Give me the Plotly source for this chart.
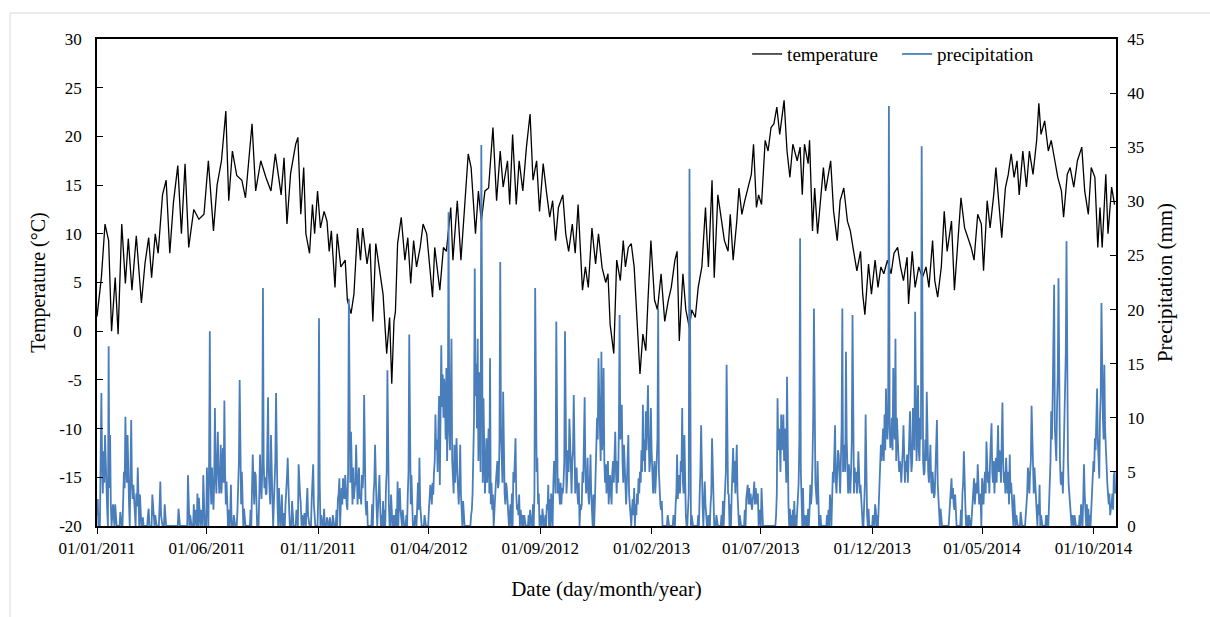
import pandas as pd
import plotly.graph_objects as go

START = "2011-01-01"
END = "2014-11-01"
N_DAYS = 1400

# Daily mean temperature (°C): day offset from 01/01/2011 and value
temp_day = [0, 6, 11, 16, 20, 25, 29, 34, 39, 43, 48, 54, 61, 66, 71, 75, 80, 84, 90, 95,
            100, 105, 111, 116, 121, 126, 133, 140, 147, 153, 160, 165, 171, 177, 181, 186, 192, 199, 204, 209,
            213, 218, 225, 232, 239, 245, 253, 257, 261, 266, 273, 276, 280, 284, 287, 292, 296, 299, 303, 307,
            312, 316, 319, 322, 327, 330, 335, 341, 344, 349, 353, 358, 362, 365, 371, 375, 379, 383, 388, 393,
            398, 402, 405, 408, 410, 413, 418, 423, 427, 431, 435, 439, 444, 448, 453, 457, 461, 464, 468, 471,
            476, 480, 486, 489, 495, 500, 505, 510, 514, 520, 524, 528, 533, 538, 544, 549, 554, 558, 564, 567,
            571, 576, 580, 585, 590, 595, 599, 604, 608, 613, 618, 622, 626, 630, 634, 640, 644, 648, 653, 657,
            661, 667, 671, 675, 680, 685, 689, 694, 699, 702, 705, 710, 714, 719, 723, 726, 730, 734, 738, 743,
            746, 750, 754, 757, 761, 766, 770, 775, 780, 785, 789, 794, 797, 800, 805, 809, 814, 817, 822, 826,
            831, 836, 840, 845, 848, 853, 858, 862, 867, 870, 874, 879, 882, 886, 890, 894, 899, 902, 906, 909,
            913, 918, 922, 926, 930, 934, 938, 944, 948, 952, 956, 962, 966, 969, 972, 977, 979, 983, 986, 990,
            995, 998, 1001, 1005, 1008, 1012, 1017, 1021, 1026, 1031, 1035, 1040, 1044, 1049, 1052, 1055, 1060, 1064, 1069, 1073,
            1077, 1081, 1086, 1091, 1095, 1100, 1104, 1108, 1113, 1115, 1120, 1124, 1129, 1134, 1139, 1143, 1148, 1151, 1155, 1160,
            1164, 1168, 1174, 1178, 1183, 1187, 1192, 1196, 1201, 1205, 1210, 1215, 1218, 1223, 1227, 1232, 1235, 1240, 1243, 1248,
            1252, 1256, 1260, 1264, 1267, 1272, 1277, 1281, 1286, 1291, 1294, 1297, 1302, 1307, 1311, 1316, 1320, 1325, 1328, 1333,
            1337, 1342, 1347, 1353, 1357, 1362, 1366, 1371, 1375, 1378, 1381, 1386, 1389, 1394, 1398]
temp_c = [1.5, 5.5, 11, 9.3, 0, 5.5, -0.3, 11, 4.9, 9.5, 4.2, 9.8, 2.9, 7, 9.6, 5.5, 10, 8, 14, 15.5,
          8, 13.2, 17, 10, 17.2, 8.6, 12.5, 11.5, 12, 17.5, 10.3, 15, 17.5, 22.6, 13.4, 18.5, 16, 15.5, 13.7, 17.8,
          21.3, 14.4, 17.5, 15.8, 14.4, 18.2, 14, 17.8, 11, 16.2, 19.2, 19.9, 12, 16.8, 10, 8, 13, 10, 14.4, 10.6,
          12.3, 11.3, 8.2, 10.3, 4.5, 10, 6.6, 7.3, 3.2, 1.8, 3.8, 10.6, 7.3, 10.6, 6.9, 9, 1, 9, 6.6, 3.8,
          -2.3, 1.4, -5.4, 1, 2, 9, 11.7, 7.3, 9.6, 4.9, 9.3, 6.6, 8.6, 11, 10, 6.6, 3.5, 8.6, 5.9, 4.2,
          8.6, 8.2, 12.7, 7.3, 13.4, 7.3, 12.7, 18.2, 16.8, 10, 14.4, 11.3, 14.4, 14.7, 20.9, 13.4, 18.5, 14.8, 17.5, 13,
          20.2, 13, 17.5, 14.4, 18.9, 22.3, 15.5, 17.5, 12.3, 17.2, 14, 11.7, 13.4, 9.3, 12.7, 14, 10, 8.2, 11, 8,
          13, 4.2, 6.6, 4.5, 10.6, 6.9, 10, 6.5, 5, 5.9, 0.7, -2.3, 7.3, 5.2, 9.3, 6.6, 8.6, 9, 6.6, 0.3,
          -4.4, -0.3, -2, 3.2, 9.3, 3.2, 2.2, 5.9, 1, 3.2, 4.5, 7.3, 8.2, -1, 5.9, 2.2, 0.3, 2.2, 1.4, 4.5,
          6.6, 12.7, 6.6, 15.5, 5.5, 14, 11.3, 9.3, 8.2, 12, 7.3, 11.3, 14.7, 12, 13.4, 14.7, 16.1, 19.2, 12.7, 14,
          13, 19.6, 18.5, 20.9, 21.3, 23, 20.2, 23.7, 18.5, 15.8, 19.2, 17.5, 18.9, 14, 19.2, 17.2, 19.6, 10.3, 14.7, 10,
          14.7, 16.8, 14.4, 16.1, 17.5, 12.3, 9.3, 13.4, 14.7, 11.3, 10.3, 8, 6.2, 8.2, 3.8, 1.7, 6.9, 3.8, 7.3, 4.5,
          6.6, 5.9, 7.3, 5.9, 8, 8.6, 6.6, 5.2, 7.6, 2.8, 8.2, 4.5, 6.6, 5.5, 6.6, 4.5, 9.3, 5.2, 3.5, 6.6,
          12.3, 8.2, 11.3, 4.2, 9.3, 13.7, 10.6, 9.6, 8.6, 7.3, 12, 11, 6.2, 13.4, 10.6, 14, 16.8, 12.3, 9.6, 14.7,
          16.1, 18.2, 15.8, 17.5, 14, 18.5, 14.8, 18.5, 16.1, 19.6, 23.4, 20.2, 21.6, 18.5, 19.6, 17.5, 15.8, 14.4, 11.7, 16.1,
          16.8, 14.8, 17.5, 18.9, 14.4, 12, 16.8, 15.8, 8.6, 12.7, 8.6, 16.1, 10, 14.8, 13]

# Daily precipitation (mm): the clearly readable rain days (other days dry)
rain_day = [0, 6, 9, 11, 13, 16, 18, 22, 25, 32, 39, 42, 47, 50, 56, 59, 71, 76, 80, 87,
            93, 112, 125, 133, 140, 146, 151, 155, 158, 162, 166, 170, 173, 175, 178, 184, 188, 196, 199, 202,
            214, 218, 224, 228, 232, 235, 239, 246, 250, 254, 262, 268, 277, 279, 282, 289, 297, 305, 312, 324,
            333, 338, 341, 346, 349, 352, 356, 360, 364, 367, 371, 382, 388, 393, 399, 404, 411, 413, 418, 429,
            432, 443, 458, 462, 465, 471, 473, 477, 480, 483, 487, 491, 494, 499, 503, 514, 519, 523, 525, 528,
            531, 535, 540, 544, 550, 554, 558, 563, 567, 575, 580, 585, 593, 602, 605, 612, 620, 631, 634, 639,
            643, 646, 649, 653, 655, 659, 664, 670, 674, 678, 682, 689, 693, 696, 699, 702, 705, 712, 718, 721,
            724, 730, 733, 738, 744, 750, 754, 757, 761, 766, 771, 776, 784, 797, 800, 804, 807, 814, 817, 830,
            835, 845, 851, 860, 865, 868, 874, 879, 883, 894, 899, 903, 906, 913, 935, 940, 943, 948, 952, 958,
            966, 970, 977, 980, 985, 990, 994, 1007, 1014, 1019, 1024, 1027, 1029, 1033, 1038, 1041, 1046, 1049, 1056, 1060,
            1069, 1077, 1082, 1084, 1088, 1090, 1094, 1097, 1100, 1104, 1108, 1113, 1117, 1121, 1124, 1128, 1133, 1136, 1140, 1145,
            1150, 1154, 1159, 1174, 1179, 1191, 1198, 1205, 1210, 1216, 1222, 1229, 1235, 1238, 1244, 1249, 1254, 1260, 1269, 1279,
            1284, 1288, 1295, 1304, 1311, 1315, 1318, 1321, 1325, 1332, 1335, 1343, 1356, 1362, 1371, 1374, 1377, 1380, 1384, 1387,
            1393, 1397]
rain_mm = [1.0, 12.3, 6.9, 8.4, 2.9, 16.6, 8.4, 2, 2, 1.3, 10.1, 8.4, 9.8, 3.8, 5.4, 2.9, 1.6, 2.9, 1, 4.1,
           2, 1.6, 4.7, 2, 2.6, 4.7, 5.4, 18, 5.4, 10.9, 8.7, 7.5, 7.2, 11.6, 4.1, 3.8, 1, 13.5, 5, 1.6,
           6.6, 4.7, 6.6, 22, 2.9, 11.9, 8.4, 12.3, 3.5, 2.9, 6.3, 2.3, 5.7, 2.9, 1, 3.5, 5.7, 19.2, 1.6, 1,
           4.4, 4.4, 4.7, 21, 8.7, 5.4, 7.5, 5.4, 4.7, 12.1, 2.3, 7.5, 4.7, 2.3, 14.4, 2.9, 1.6, 4.1, 1, 17.7,
           4.7, 6.3, 3.8, 2.9, 10.3, 3.8, 16.7, 13.6, 14.6, 29, 17.3, 7.5, 8.1, 7.5, 2.3, 1, 23.8, 17.3, 14.2, 35.2,
           11.8, 8.1, 15.5, 2.9, 6, 24.4, 12.4, 3.5, 1, 8.1, 2.9, 1, 1, 22, 6.3, 1.6, 3.8, 18.9, 4.4, 3.5,
           18, 4.4, 9.9, 6, 12.1, 5.4, 2, 11.9, 6.3, 6.6, 2.9, 15.5, 16.1, 14.6, 5.7, 6, 4.7, 8.7, 19.5, 11.2,
           7.5, 8.4, 1.6, 3.5, 4.4, 11.2, 10.6, 13, 10.9, 6, 20.1, 2.3, 1, 6.6, 4.7, 10.9, 8.4, 33, 1, 9.3,
           4.1, 8.1, 1, 2.3, 14.9, 2.9, 7.2, 7.5, 1, 3.8, 2, 4.1, 2.9, 3.5, 11.8, 10.3, 10.3, 13.8, 1.6, 2.3,
           26.6, 3.5, 1.6, 3.8, 20.1, 6, 1, 2.9, 9.3, 6.6, 20.1, 7.5, 16.1, 5.7, 19.5, 5.4, 6.9, 3.8, 10.3, 1.6,
           2, 7.5, 10.3, 12.7, 38.8, 7.2, 14.6, 17.3, 8.7, 5.4, 9.3, 6.6, 10.6, 10.9, 19.8, 13, 35.1, 4.7, 12.4, 7.5,
           2.6, 9.8, 1.6, 4.4, 2.9, 6.9, 1, 4.4, 5.7, 4.4, 7.8, 9.5, 6.3, 9.3, 11.4, 6.3, 6.6, 2.9, 1.3, 5.4,
           11.1, 5.4, 3.8, 1, 10.6, 22.3, 6, 22.9, 3.8, 26.3, 3.8, 1, 5.7, 1.6, 8.1, 12.7, 4.4, 20.6, 14.9, 5.7,
           1.6, 4.7]

# Light-rain days filling the wet spells (estimated from the dense low band of the chart)
light_day = [1, 3, 5, 7, 8, 10, 12, 14, 17, 19, 21, 23, 36, 37, 38, 40, 41, 43, 44, 46, 48, 49, 51, 54, 55, 57, 60,
             63, 70, 77, 86, 88, 126, 128, 135, 138, 141, 143, 147, 149, 152, 154, 156, 157, 159, 160, 161, 163, 164, 165,
             167, 168, 169, 171, 172, 174, 176, 177, 179, 181, 183, 193, 194, 195, 197, 198, 200,
             211, 213, 215, 216, 217, 219, 221, 223, 225, 226, 227, 229, 230, 231, 233, 234, 236, 237, 238, 240, 241, 243,
             244, 245, 247, 248, 251, 253, 256, 259, 260, 261, 263, 264, 274, 278, 280, 285, 288, 290, 295, 296, 298,
             304, 306, 308, 316, 320, 329, 331, 332, 335, 336, 337, 339, 340, 342, 343, 344, 345, 347, 348, 350, 351, 353,
             354, 355, 357, 358, 359, 361, 362, 363, 365, 366, 368, 369, 370, 378, 380, 381, 383, 384, 386, 387, 389, 391,
             395, 397, 398, 400, 401, 408, 415, 416, 417, 420, 425, 427, 428, 430, 431, 433, 437, 440, 441, 442, 444, 450,
             456, 457, 459, 460, 461, 463, 464, 466, 467, 468, 469, 470, 472, 474, 475, 476, 478, 479, 481, 482, 484, 485,
             486, 488, 489, 490, 492, 493, 495, 496, 497, 498, 500, 501, 515, 516, 517, 518, 520, 521, 522, 524, 526, 527,
             529, 530, 532, 533, 534, 536, 537, 538, 539, 541, 542, 543, 546, 547, 548, 549, 551, 552, 553, 555, 556, 557,
             559, 560, 561, 562, 564, 568, 570, 572, 573, 574, 576, 577, 578, 579, 582, 587, 595, 599, 601, 603, 604, 606,
             607, 609, 616, 618, 619, 622, 624, 625, 627, 628, 629, 630, 632, 633, 635, 636, 637, 638, 640, 641, 642, 644,
             645, 647, 648, 650, 651, 652, 654, 656, 657, 658, 660, 661, 662, 665, 666, 667, 668, 669, 671, 672, 673, 675,
             676, 677, 679, 680, 684, 685, 686, 687, 688, 690, 691, 692, 694, 695, 697, 698, 700, 701, 703, 704, 706, 707,
             708, 709, 710, 711, 713, 714, 715, 716, 717, 719, 720, 722, 723, 725, 726, 727, 728, 729, 731, 732, 735, 736,
             737, 740, 741, 742, 743, 745, 746, 747, 748, 749, 751, 752, 753, 755, 756, 758, 759, 760, 762, 763, 764, 765,
             767, 768, 769, 770, 772, 773, 774, 775, 792, 795, 796, 798, 799, 801, 802, 803, 805, 806, 808, 809, 812, 813,
             815, 826, 828, 829, 831, 832, 834, 836, 840, 843, 844, 846, 847, 858, 862, 863, 864, 866, 867, 870, 872, 873,
             875, 876, 877, 878, 880, 881, 890, 892, 893, 895, 896, 897, 898, 900, 901, 902, 904, 905, 907, 908, 910, 911,
             933, 934, 936, 937, 938, 939, 941, 942, 944, 945, 946, 947, 949, 950, 954, 956, 960, 962, 963, 964, 965, 967,
             968, 972, 975, 979, 981, 982, 983, 984, 986, 987, 988, 989, 991, 1003, 1005, 1008, 1010, 1011, 1012, 1013,
             1015, 1016, 1017, 1018, 1020, 1021, 1022, 1023, 1025, 1026, 1028, 1030, 1031, 1032, 1034, 1035, 1036, 1037,
             1039, 1040, 1042, 1043, 1044, 1045, 1047, 1048, 1050, 1051, 1054, 1055, 1057, 1058, 1066, 1070, 1072, 1074,
             1075, 1076, 1078, 1079, 1080, 1081, 1083, 1085, 1086, 1087, 1089, 1091, 1092, 1093, 1095, 1096, 1098, 1099,
             1101, 1102, 1103, 1105, 1106, 1107, 1109, 1110, 1111, 1112, 1114, 1115, 1116, 1118, 1119, 1120, 1122, 1123,
             1125, 1126, 1127, 1129, 1130, 1131, 1132, 1134, 1135, 1137, 1138, 1139, 1141, 1142, 1143, 1144, 1146, 1147,
             1148, 1149, 1151, 1152, 1153, 1155, 1156, 1157, 1171, 1172, 1173, 1175, 1176, 1177, 1178, 1180, 1187, 1189,
             1190, 1192, 1193, 1195, 1202, 1203, 1204, 1206, 1207, 1208, 1209, 1211, 1212, 1213, 1214, 1217, 1218, 1219,
             1220, 1221, 1223, 1224, 1225, 1226, 1227, 1228, 1230, 1231, 1232, 1233, 1234, 1236, 1237, 1239, 1240, 1241,
             1242, 1243, 1245, 1246, 1247, 1248, 1250, 1251, 1252, 1253, 1255, 1256, 1257, 1258, 1261, 1263, 1276, 1277,
             1278, 1280, 1281, 1282, 1283, 1285, 1286, 1287, 1289, 1290, 1291, 1293, 1294, 1297, 1306, 1308, 1309, 1310,
             1312, 1313, 1314, 1316, 1317, 1319, 1320, 1322, 1323, 1324, 1326, 1327, 1328, 1329, 1330, 1331, 1333, 1334,
             1336, 1337, 1338, 1340, 1350, 1352, 1353, 1355, 1357, 1358, 1360, 1364, 1366, 1367, 1368, 1369, 1370, 1372,
             1373, 1375, 1376, 1378, 1379, 1381, 1382, 1383, 1385, 1386, 1388, 1389, 1390, 1391, 1392, 1394, 1395, 1396,
             1398, 1399]
light_mm = [2.5, 1.2, 4.5, 6, 3, 4, 5, 1.5, 3.5, 2, 1, 0.8, 2.5, 5, 3.5, 6, 4, 3, 2, 5, 4, 2.5, 2, 3, 1.8, 2.2, 1,
            0.8, 1, 1.5, 2, 1, 2, 1, 1.5, 3, 1, 1.5, 2.5, 1, 3, 6, 4, 2, 3.5, 1.5, 4, 5, 3, 6,
            5, 3, 4, 3, 5, 4, 5, 2, 2, 1.5, 1, 1.5, 3, 6, 4, 2, 1.5,
            1.5, 3.5, 4, 2, 5, 2.5, 1, 3, 4, 2.5, 5, 6, 3.5, 4.5, 3, 6, 5, 3, 2, 4, 2.5, 3,
            5, 6, 3, 2, 1.5, 1, 1.2, 2, 3, 4.5, 3, 1.5, 1.5, 3.5, 2, 1.2, 2, 1, 2.5, 4, 2,
            3, 4, 1, 0.8, 0.8, 1.5, 2.5, 3, 2, 3.5, 2, 3, 2.5, 3, 2, 1.5, 5, 6, 4, 3, 2, 2.5,
            3.5, 4, 3, 2, 4, 2.5, 3, 2, 3.5, 5, 4, 2, 1, 2, 3, 4, 3, 2, 1.5, 3, 2, 1,
            1.5, 3.5, 5, 4, 2, 1, 2.5, 3.5, 1.5, 1.5, 1, 3, 5, 4, 2, 2, 1, 2, 4, 1.5, 2, 1,
            1.5, 2.5, 3, 2, 4, 5, 6, 7, 8, 5, 9, 12, 9, 11, 14, 10, 12, 8, 6, 10, 9, 7,
            12, 6, 5, 3, 4, 6, 5, 3, 2, 4, 3, 1.5, 1.5, 3, 6, 10, 12, 15, 9, 6, 8, 5,
            7, 4, 6, 3, 5, 4, 6, 9, 3, 2, 4, 1.5, 2, 3, 4, 5, 3.5, 4, 8, 9, 7, 4,
            6, 3, 2, 4, 2, 2, 3, 5, 4, 6, 3, 1.5, 2, 1, 1.5, 1, 1.5, 2, 3, 8, 5, 2,
            3, 1, 1, 2, 1.5, 2.5, 3, 1.5, 4, 6, 5, 3, 5, 3, 3, 2, 4, 2, 3, 4, 6, 5,
            3, 7, 5, 8, 4, 3, 7, 4, 3, 5, 3, 2, 4, 1.5, 2, 5, 4, 8, 5, 3, 4, 3,
            2, 4, 3, 1.5, 2, 4, 6, 10, 8, 12, 9, 6, 7, 9, 6, 4, 3, 5, 2, 3, 3, 2,
            5, 6, 4, 7, 5, 3, 6, 4, 9, 8, 10, 6, 4, 5, 3, 2, 4, 6, 3, 2, 1.5, 2.5,
            1, 2, 1, 3, 2, 3, 5, 4, 7, 5, 6, 8, 5, 7, 9, 8, 5, 6, 7, 4, 3, 5,
            3, 4, 6, 8, 5, 3, 2, 1.5, 1, 2, 3, 2.5, 4, 3, 6, 5, 4, 3, 2, 1, 1.5, 3,
            2, 1, 3, 5, 4, 2, 3, 2, 1, 2, 3, 4, 2, 1, 2, 3, 5, 6, 3, 2, 3, 5,
            4, 6, 3, 5, 3, 2, 1.5, 2.5, 3, 2, 3.5, 2, 3, 1.5, 2.5, 3, 2, 3.5, 2, 3, 1.5, 1,
            1, 3, 7, 9, 8, 5, 7, 8, 6, 9, 5, 4, 3, 2, 1, 1.5, 1, 1.5, 2, 4, 8, 5,
            2, 1, 1, 1.5, 2, 3, 6, 10, 8, 4, 3, 2, 2, 1, 1.5, 2, 3, 5, 4,
            6, 4, 3, 5, 7, 4, 3, 6, 9, 5, 6, 5, 8, 4, 3, 4, 3, 5, 8,
            6, 3, 4, 5, 3, 4, 5, 3, 2, 1, 2, 4, 3, 1, 1, 1.5, 1, 2,
            3, 5, 6, 8, 9, 6, 7, 9, 8, 11, 9, 8, 10, 7, 9, 8, 6, 10,
            7, 5, 6, 4, 5, 7, 5, 4, 6, 5, 4, 6, 8, 7, 5, 6, 9, 7,
            8, 6, 9, 7, 6, 10, 8, 9, 6, 5, 8, 6, 7, 5, 4, 6, 4, 3,
            5, 4, 3, 5, 6, 4, 3, 2, 1, 2, 3, 2.5, 3.5, 2, 1.5, 1, 1.5, 3,
            4, 3, 2, 1, 1, 2, 3, 2, 3, 4, 3, 4, 2, 3, 2.5, 3, 2, 4,
            5, 3, 6, 4, 5, 3, 6, 8, 5, 4, 6, 3, 5, 4, 6, 5, 7, 6,
            4, 8, 6, 4, 5, 3, 4, 3, 5, 2, 3, 4, 2, 1.5, 1, 1, 1, 2,
            3, 4, 3, 5, 6, 7, 5, 3, 4, 2, 1.5, 2, 1, 1, 1, 2, 4, 6,
            8, 12, 16, 9, 7, 11, 14, 10, 6, 4, 5, 3, 6, 9, 12, 16, 10, 6,
            3, 2, 1.5, 1, 1, 2, 1, 2.5, 3, 1.5, 2, 1, 1.5, 3, 4, 6, 5, 7,
            9, 8, 6, 10, 12, 14, 10, 8, 9, 6, 4, 3, 2, 3, 1, 2, 3, 1.5,
            5, 3]

tick_dates = ["2011-01-01", "2011-06-01", "2011-11-01", "2012-04-01", "2012-09-01",
              "2013-02-01", "2013-07-01", "2013-12-01", "2014-05-01", "2014-10-01"]
tick_text = ["01/01/2011", "01/06/2011", "01/11/2011", "01/04/2012", "01/09/2012",
             "01/02/2013", "01/07/2013", "01/12/2013", "01/05/2014", "01/10/2014"]
temp_ticks = [-20, -15, -10, -5, 0, 5, 10, 15, 20, 25, 30]
temp_tick_text = ["-20", "-15", "-10", "-5", "0", "5", "10", "15", "20", "25", "30"]
rain_ticks = [0, 5, 10, 15, 20, 25, 30, 35, 40, 45]

start = pd.Timestamp(START)
temp_dates = start + pd.to_timedelta(temp_day, unit="D")

# daily precipitation series: listed rainy days, zero otherwise
rain_series = pd.Series(0.0, index=pd.date_range(start, periods=N_DAYS, freq="D"))
rain_series.iloc[light_day] = light_mm
rain_series.iloc[rain_day] = rain_mm

FONT = "Liberation Serif, Times New Roman, serif"

fig = go.Figure()
fig.add_trace(go.Scatter(x=temp_dates, y=temp_c, mode="lines", name="temperature",
                         line=dict(color="#000000", width=1.3), yaxis="y"))
fig.add_trace(go.Scatter(x=rain_series.index, y=rain_series.values, mode="lines", name="precipitation",
                         line=dict(color="#4A7EBB", width=1.8), yaxis="y2"))

fig.update_layout(
    width=1210, height=617,
    margin=dict(l=97, r=94, t=39, b=91, pad=0),
    paper_bgcolor="white", plot_bgcolor="white",
    font=dict(family=FONT, size=17, color="#000000"),
    showlegend=True,
    legend=dict(orientation="h", x=0.638, y=1.008, xanchor="left", yanchor="top",
                bgcolor="rgba(0,0,0,0)", font=dict(size=19, family=FONT),
                itemwidth=30, entrywidth=105, entrywidthmode="pixels"),
    xaxis=dict(type="date", range=[START, END],
               tickvals=tick_dates, ticktext=tick_text,
               ticks="outside", ticklen=6, tickcolor="#000000",
               showline=True, linecolor="#000000", linewidth=1.5, mirror=True,
               showgrid=False, zeroline=False, automargin=False,
               tickfont=dict(size=17, family=FONT),
               title=dict(text="Date (day/month/year)", font=dict(size=21, family=FONT), standoff=24)),
    yaxis=dict(range=[-20, 30], tickvals=temp_ticks, ticktext=temp_tick_text,
               ticks="inside", ticklen=6, tickcolor="#000000",
               showline=True, linecolor="#000000", linewidth=1.5,
               showgrid=False, zeroline=False, ticklabelstandoff=10, automargin=False,
               tickfont=dict(size=17, family=FONT),
               title=dict(text="Temperature (°C)", font=dict(size=20, family=FONT), standoff=8)),
    yaxis2=dict(range=[0, 45], tickvals=rain_ticks, overlaying="y", side="right",
                ticks="inside", ticklen=6, tickcolor="#000000",
                showline=True, linecolor="#000000", linewidth=1.5,
                showgrid=False, zeroline=False, ticklabelstandoff=6, automargin=False,
                tickfont=dict(size=17, family=FONT),
                title=dict(text="Precipitation (mm)", font=dict(size=21, family=FONT), standoff=14)),
)

# light outer chart-area border (top and left edges visible in the reference)
fig.add_shape(type="line", xref="paper", yref="paper", x0=-0.0854, x1=1.2, y0=1.0534, y1=1.0534,
              line=dict(color="#d9d9d9", width=1))
fig.add_shape(type="line", xref="paper", yref="paper", x0=-0.0854, x1=-0.0854, y0=1.0534, y1=-0.3,
              line=dict(color="#d9d9d9", width=1))

fig.write_html("out.html", config={"displayModeBar": False},
               post_script="document.body.style.margin='0px';")
